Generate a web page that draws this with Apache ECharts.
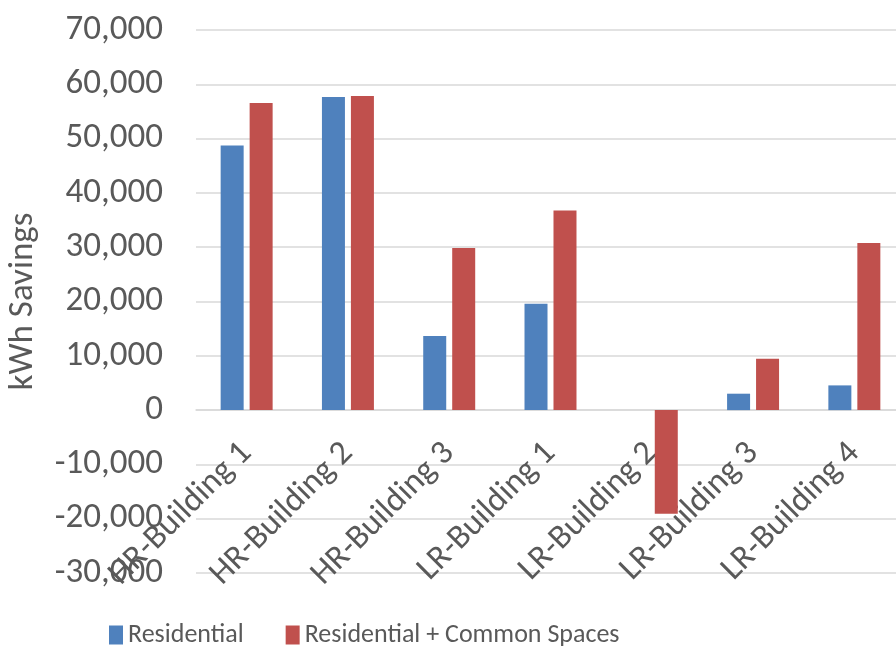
<!DOCTYPE html>
<html>
<head>
<meta charset="utf-8">
<script src="https://cdn.jsdelivr.net/npm/echarts@6/dist/echarts.min.js"></script>
<style>html,body{margin:0;padding:0;background:#fff}#c{width:896px;height:650px}</style>
</head>
<body>
<div id="c"></div>
<script>
const categories = ['HR-Building 1','HR-Building 2','HR-Building 3','LR-Building 1','LR-Building 2','LR-Building 3','LR-Building 4'];
const residential = [48750, 57640, 13630, 19590, 0, 3020, 4550];
const residentialCommon = [56540, 57830, 29830, 36780, -19100, 9460, 30760];
const seriesNames = ['Residential', 'Residential + Common Spaces'];
const yTicks = { min: -30000, max: 70000, interval: 10000 };

const FONT = 'Carlito, Lato, sans-serif';
const TXT = '#595959';
const chart = echarts.init(document.getElementById('c'), null, { renderer: 'canvas' });
chart.setOption({
  animation: false,
  backgroundColor: '#ffffff',
  textStyle: { fontFamily: FONT },
  grid: { left: 196, right: -9, top: 30, bottom: 77, containLabel: false, outerBoundsMode: 'none' },
  legend: {
    bottom: -3, left: 104,
    itemWidth: 14, itemHeight: 19, itemGap: 42,
    icon: 'rect',
    textStyle: { fontFamily: FONT, fontSize: 26, color: TXT },
    data: seriesNames
  },
  xAxis: {
    type: 'category',
    data: categories,
    offset: -163,
    axisLine: { onZero: false, lineStyle: { color: '#d9d9d9', width: 1.5 } },
    axisTick: { show: false },
    axisLabel: { rotate: 45, margin: 38, fontFamily: FONT, fontSize: 34, color: TXT, interval: 0, hideOverlap: false },
    splitLine: { show: false }
  },
  yAxis: {
    type: 'value',
    min: yTicks.min, max: yTicks.max, interval: yTicks.interval,
    name: 'kWh Savings',
    nameLocation: 'middle',
    nameGap: 155,
    nameRotate: 90,
    nameTextStyle: { fontFamily: FONT, fontSize: 35, color: TXT },
    axisLine: { show: false },
    axisTick: { show: false },
    axisLabel: {
      margin: 33, fontFamily: FONT, fontSize: 35, color: TXT,
      formatter: v => v.toLocaleString('en-US')
    },
    splitLine: { lineStyle: { color: '#d9d9d9', width: 1.5 } }
  },
  series: [
    { name: seriesNames[0], type: 'bar', data: residential, barWidth: 23, barGap: '26%', itemStyle: { color: '#4f81bd' } },
    { name: seriesNames[1], type: 'bar', data: residentialCommon, barWidth: 23, itemStyle: { color: '#c0504d' } }
  ]
});
</script>
</body>
</html>
